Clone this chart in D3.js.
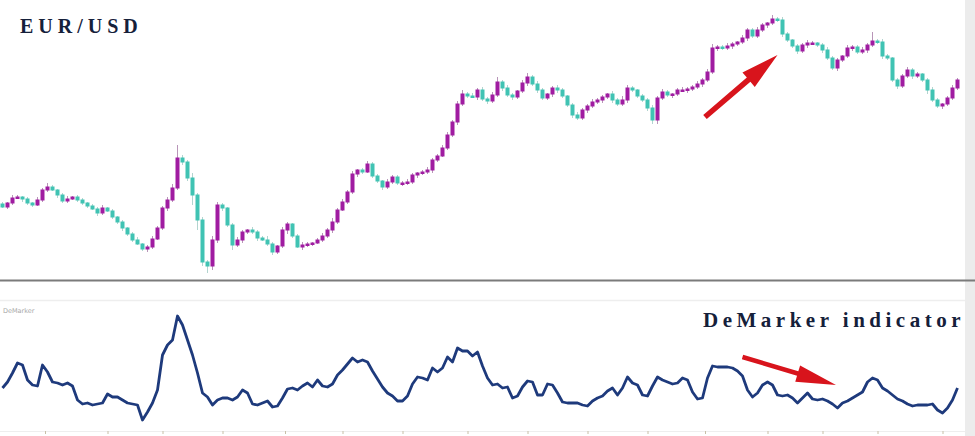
<!DOCTYPE html>
<html><head><meta charset="utf-8">
<script src="https://cdn.jsdelivr.net/npm/d3@7"></script>
<style>html,body{margin:0;padding:0;background:#fff;overflow:hidden}</style>
</head><body><svg id="c" width="975" height="436"></svg>
<script>
// ---- DATA ----
const firstOpen = 1.096;
const closes = [
1.093,1.097,1.102,1.103,1.101,1.097,1.095,1.100,1.110,1.113,1.110,1.105,1.099,1.101,1.103,1.100,
1.097,1.094,1.091,1.087,1.092,1.089,1.083,1.078,1.072,1.066,1.060,1.056,1.051,1.053,1.061,1.072,
1.092,1.100,1.112,1.142,1.138,1.122,1.105,1.080,1.038,1.034,1.060,1.095,1.092,1.075,1.055,1.060,
1.068,1.070,1.068,1.062,1.060,1.056,1.048,1.054,1.070,1.076,1.064,1.053,1.055,1.056,1.057,1.060,
1.064,1.070,1.078,1.090,1.098,1.108,1.126,1.130,1.128,1.136,1.124,1.119,1.113,1.118,1.123,1.117,
1.117,1.118,1.125,1.127,1.128,1.130,1.140,1.144,1.152,1.165,1.178,1.196,1.206,1.204,1.203,1.210,
1.201,1.199,1.205,1.218,1.212,1.205,1.203,1.209,1.217,1.223,1.216,1.210,1.202,1.206,1.212,1.210,
1.204,1.195,1.185,1.182,1.190,1.194,1.198,1.200,1.203,1.206,1.200,1.196,1.200,1.212,1.210,1.204,
1.200,1.192,1.180,1.202,1.208,1.205,1.206,1.210,1.210,1.211,1.213,1.216,1.220,1.228,1.252,1.253,
1.252,1.254,1.256,1.258,1.262,1.270,1.264,1.270,1.275,1.277,1.281,1.280,1.266,1.260,1.254,1.249,
1.255,1.257,1.257,1.255,1.250,1.242,1.232,1.240,1.244,1.252,1.253,1.248,1.250,1.255,1.259,1.258,
1.244,1.242,1.220,1.214,1.224,1.230,1.224,1.226,1.220,1.210,1.200,1.194,1.196,1.202,1.212,1.220];
// upper / lower shadow length beyond the body, in units of 0.001
const wickHi = [
2,1,3,2,1,2,1,3,2,4,2,1,2,3,1,2, 2,1,2,2,3,1,2,1,2,1,2,3,1,2,3,2,
2,3,4,13,3,2,5,2,3,2,4,3,2,1,2,3, 2,1,3,2,2,4,2,1,3,2,1,2,3,2,1,2,
3,2,4,2,3,2,3,1,2,3,2,2,1,3,2,2, 2,3,2,1,2,3,2,2,3,3,2,3,4,2,3,2,
3,2,3,5,2,3,2,1,3,4,2,3,2,1,2,3, 2,1,2,3,2,2,3,2,2,1,3,2,4,3,2,1,
2,2,3,2,3,2,1,2,3,2,2,3,2,3,4,2, 2,3,2,1,3,2,2,3,2,1,4,2,3,2,1,2,
2,3,2,1,2,3,2,2,1,3,2,2,3,2,9,2, 3,2,1,2,2,3,2,2,1,2,3,2,1,2,3,2];
const wickLo = [
1,2,2,1,3,2,2,1,2,2,1,3,2,2,1,2, 2,2,1,3,2,1,2,2,3,2,2,1,2,3,2,1,
2,3,2,2,3,3,10,10,4,7,4,3,3,2,5,2, 3,2,2,3,1,2,3,2,2,4,2,1,3,2,2,1,
2,2,3,2,1,2,2,3,2,1,2,2,3,2,2,2, 3,2,2,3,2,2,3,2,1,2,2,3,2,2,1,3,
2,3,2,2,3,2,3,2,2,3,2,3,2,2,3,3, 2,2,3,2,2,3,2,2,3,2,3,2,2,3,2,2,
2,3,4,4,2,2,3,2,2,3,2,2,3,2,2,3, 2,2,3,2,2,3,2,2,2,3,2,2,3,2,2,3,
2,3,2,2,3,2,2,3,2,2,3,2,2,3,2,2, 3,2,2,3,2,2,3,2,2,4,2,2,3,2,2,2];
const demarker = [
0.336,0.384,0.456,0.536,0.52,0.40,0.36,0.352,0.52,0.464,0.384,0.376,0.36,0.376,0.352,0.24,
0.208,0.216,0.20,0.208,0.216,0.288,0.264,0.264,0.24,0.216,0.208,0.20,0.08,0.144,0.216,0.32,
0.60,0.68,0.72,0.912,0.84,0.72,0.60,0.456,0.296,0.264,0.20,0.24,0.256,0.256,0.24,0.264,
0.32,0.296,0.208,0.20,0.216,0.232,0.184,0.192,0.256,0.328,0.336,0.32,0.352,0.376,0.344,0.40,
0.352,0.344,0.368,0.44,0.48,0.528,0.576,0.544,0.56,0.544,0.472,0.408,0.344,0.296,0.272,0.232,
0.232,0.272,0.368,0.424,0.416,0.40,0.496,0.464,0.496,0.584,0.544,0.656,0.632,0.632,0.592,0.624,
0.512,0.416,0.36,0.368,0.336,0.344,0.256,0.272,0.344,0.392,0.384,0.28,0.28,0.368,0.36,0.296,
0.224,0.216,0.216,0.216,0.20,0.192,0.232,0.256,0.272,0.312,0.336,0.28,0.336,0.424,0.376,0.36,
0.28,0.272,0.352,0.424,0.40,0.384,0.368,0.376,0.416,0.40,0.304,0.248,0.256,0.416,0.512,0.504,
0.504,0.504,0.496,0.472,0.432,0.32,0.264,0.296,0.36,0.384,0.36,0.28,0.272,0.28,0.256,0.216,
0.256,0.296,0.248,0.24,0.248,0.232,0.208,0.176,0.216,0.232,0.256,0.28,0.304,0.384,0.416,0.40,
0.336,0.312,0.28,0.248,0.232,0.208,0.192,0.20,0.20,0.20,0.208,0.16,0.136,0.176,0.24,0.336];
const timeTicks = [8.5,21,32,44,56.5,68,80,93,105,117,129,140.5,153,164,175,188];
const priceTitle = "EUR/USD";
const indTitle = "DeMarker indicator";
const indLabel = "DeMarker";
// annotation arrows: [fromIndex, fromValue, toIndex, toValue]
const priceArrow = [140.5, 1.183, 155, 1.245];
const indArrow = [148, 0.584, 166.7, 0.36];

// ---- DRAW ----
const svg = d3.select("#c");
const x = d3.scaleLinear().domain([0, closes.length - 1]).range([2.5, 957.5]);
const y = d3.scaleLinear().domain([1.02, 1.30]).range([280, 0]);
const yd = d3.scaleLinear().domain([0, 1]).range([430, 305]);
const UP = "#a01ca1", DOWN = "#40c3b3";

svg.append("rect").attr("x", 965).attr("y", 0).attr("width", 10).attr("height", 436).attr("fill", "#ececec");

const candles = closes.map((c, i) => {
  const o = i ? closes[i - 1] : firstOpen;
  return {i, o, c, h: Math.max(o, c) + wickHi[i] / 1000, l: Math.min(o, c) - wickLo[i] / 1000, up: c >= o};
});
const g = svg.append("g");
g.selectAll("line.w").data(candles).join("line").attr("class", "w")
  .attr("x1", d => x(d.i)).attr("x2", d => x(d.i))
  .attr("y1", d => y(d.h)).attr("y2", d => y(d.l))
  .attr("stroke", d => d.up ? "#8a4f8a" : "#7fb9b0").attr("stroke-width", 1).attr("opacity", 0.6);
g.selectAll("rect.b").data(candles).join("rect").attr("class", "b")
  .attr("x", d => x(d.i) - 2).attr("width", 4)
  .attr("y", d => y(Math.max(d.o, d.c)) - 0.5)
  .attr("height", d => Math.max(2.5, Math.abs(y(d.o) - y(d.c)) + 1))
  .attr("fill", d => d.up ? UP : DOWN);

// separators
svg.append("line").attr("x1", 0).attr("x2", 975).attr("y1", 280.5).attr("y2", 280.5).attr("stroke", "#7b7b7b").attr("stroke-width", 2);
svg.append("line").attr("x1", 0).attr("x2", 965).attr("y1", 300.5).attr("y2", 300.5).attr("stroke", "#eeeeee").attr("stroke-width", 1.5);

// bottom time axis
const ax = svg.append("g").attr("transform", "translate(0,431)")
  .call(d3.axisBottom(x).tickValues(timeTicks).tickFormat("").tickSize(3).tickSizeOuter(0));
ax.select(".domain").attr("stroke", "#eeeeee").attr("d", "M0,0.5H965");
ax.selectAll(".tick line").attr("stroke", "#c8bfa6");

// DeMarker line
svg.append("path").datum(demarker)
  .attr("d", d3.line().x((d, i) => x(i)).y(d => yd(d)).curve(d3.curveLinear))
  .attr("fill", "none").attr("stroke", "#1e3a7c").attr("stroke-width", 2.8).attr("stroke-linejoin", "round");

// titles
const serif = "'Liberation Serif','DejaVu Serif',serif";
svg.append("text").attr("x", 20).attr("y", 33).text(priceTitle)
  .attr("font-family", serif).attr("font-weight", "bold").attr("font-size", 20)
  .attr("letter-spacing", 5).attr("fill", "#15203a");
svg.append("text").attr("x", 703).attr("y", 327).text(indTitle)
  .attr("font-family", serif).attr("font-weight", "bold").attr("font-size", 21)
  .attr("letter-spacing", 4.5).attr("fill", "#15203a");
svg.append("text").attr("x", 3).attr("y", 313).text(indLabel)
  .attr("font-family", "'DejaVu Sans',sans-serif").attr("font-size", 6.5).attr("fill", "#a8a8a8");

// arrows
function arrow(x0, y0, x1, y1, sw, hl, hw) {
  const dx = x1 - x0, dy = y1 - y0, L = Math.hypot(dx, dy);
  const ux = dx / L, uy = dy / L, nx = -uy, ny = ux;
  const bx = x1 - ux * hl, by = y1 - uy * hl;
  const p = [
    [x0 + nx * sw / 2, y0 + ny * sw / 2], [bx + nx * sw / 2, by + ny * sw / 2],
    [bx + nx * hw, by + ny * hw], [x1, y1], [bx - nx * hw, by - ny * hw],
    [bx - nx * sw / 2, by - ny * sw / 2], [x0 - nx * sw / 2, y0 - ny * sw / 2]];
  svg.append("polygon").attr("points", p.map(q => q.join(",")).join(" ")).attr("fill", "#d8141c");
}
arrow(x(priceArrow[0]), y(priceArrow[1]), x(priceArrow[2]), y(priceArrow[3]), 5.5, 38, 9.5);
arrow(x(indArrow[0]), yd(indArrow[1]), x(indArrow[2]), yd(indArrow[3]), 4.5, 40, 8.5);
</script></body></html>
